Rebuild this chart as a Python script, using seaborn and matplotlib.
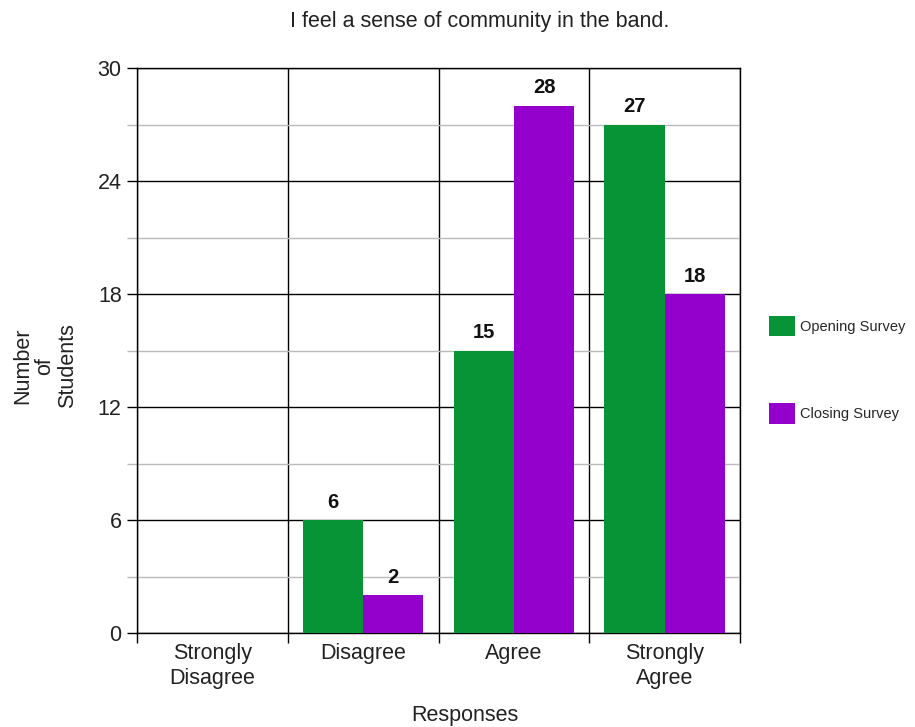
import numpy as np
import matplotlib
matplotlib.use("Agg")
import matplotlib.pyplot as plt
import seaborn as sns
import pandas as pd
from matplotlib.patches import Patch

# data
responses = ["Strongly\nDisagree", "Disagree", "Agree", "Strongly\nAgree"]
opening = [0, 6, 15, 27]
closing = [0, 2, 28, 18]
surveys = ["Opening Survey", "Closing Survey"]
colors = ["#079436", "#9400cc"]

df = pd.DataFrame({
    "Responses": responses * 2,
    "Count": opening + closing,
    "Survey": [surveys[0]] * 4 + [surveys[1]] * 4,
})

sns.set_style("white")
plt.rcParams['font.family'] = ['Liberation Sans', 'DejaVu Sans']

fig = plt.figure(figsize=(9.15, 7.27), dpi=100)
ax = fig.add_axes([137/915, 1 - 633/727, (740-137)/915, (633-68)/727])

sns.barplot(data=df, x="Responses", y="Count", hue="Survey", palette=colors,
            width=0.8, saturation=1, linewidth=0, ax=ax, legend=False, zorder=3)

# value labels (skip zeros)
for cont in ax.containers:
    labels = [f"{int(v)}" if v > 0 else "" for v in cont.datavalues]
    ax.bar_label(cont, labels=labels, padding=6, fontsize=14.5, fontweight='bold', color='#111111')

ax.set_xlim(-0.5, 3.5)
ax.set_ylim(0, 30)
ax.set_yticks([0, 6, 12, 18, 24, 30])
ax.set_yticks([3, 9, 15, 21, 27], minor=True)
ax.set_xticks([-0.5, 0.5, 1.5, 2.5, 3.5], minor=True)
ax.tick_params(axis='y', which='major', length=7, width=1, color='black', labelsize=15.5, pad=4, left=True)
ax.tick_params(axis='y', which='minor', length=7, width=1, color='#bbbbbb', left=True)
ax.tick_params(axis='x', which='major', length=0, labelsize=15.5, pad=7)
ax.tick_params(axis='x', which='minor', length=7, width=1, color='black', bottom=True)
ax.grid(axis='y', which='major', color='black', linewidth=1, zorder=1)
ax.grid(axis='y', which='minor', color='#bbbbbb', linewidth=1, zorder=1)
ax.grid(axis='x', which='minor', color='black', linewidth=1, zorder=1)
ax.set_axisbelow(True)
for s in ax.spines.values():
    s.set_color('black')
    s.set_linewidth(1)
    s.set_visible(True)
for lab in ax.get_yticklabels():
    lab.set_color('#222222')
for lab in ax.get_xticklabels():
    lab.set_color('#222222')
    lab.set_linespacing(1.25)

ax.set_xlabel("")
ax.set_ylabel("")
fig.text(465/915, 1 - 716/727, "Responses", ha='center', va='center', fontsize=15.5, color='#222222')
fig.text(45/915, 1 - 366/727, "Number\nof\nStudents", ha='center', va='center', rotation=90,
         fontsize=15.5, color='#222222', linespacing=1.1)
fig.text(480/915, 1 - 22/727, "I feel a sense of community in the band.", ha='center', va='center',
         fontsize=15.5, color='#222222')

handles = [Patch(facecolor=c, edgecolor='none') for c in colors]
fig.legend(handles, surveys, loc='upper left', bbox_to_anchor=(756/915, 1 - 303/727),
           frameon=False, fontsize=10.5, handlelength=1.75, handleheight=1.75,
           labelspacing=4.6, handletextpad=0.4)

fig.savefig("out.png", dpi=100)
